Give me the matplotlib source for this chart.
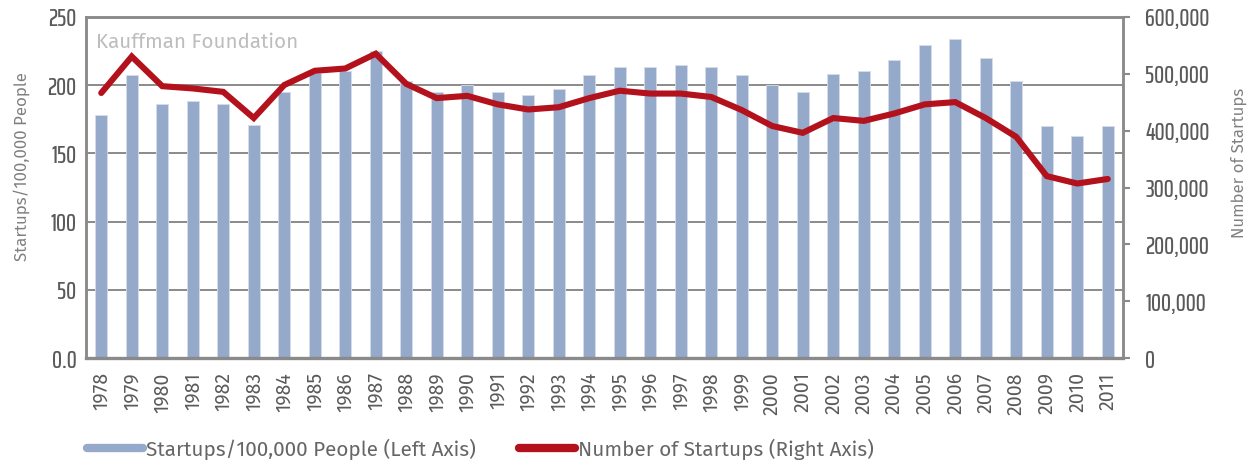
import matplotlib
matplotlib.use("Agg")
import matplotlib.pyplot as plt
from matplotlib.lines import Line2D
import numpy as np

years = [str(y) for y in range(1978, 2012)]
startups_per_100k = [178, 207, 186, 188, 186, 171, 195, 209, 210, 225, 203,
                     195, 200, 195, 193, 197, 207, 213, 213, 215, 213, 207,
                     200, 195, 208, 210, 218, 229, 234, 220, 203, 170, 163, 170]
number_of_startups = [466000, 530000, 478000, 474000, 468000, 422000, 480000,
                      505000, 509000, 535000, 482000, 457000, 461000, 446000,
                      437000, 441000, 457000, 470000, 465000, 465000, 459000,
                      436000, 408000, 396000, 422000, 417000, 430000, 446000,
                      450000, 422000, 389000, 320000, 307000, 315000]
left_ticks = [0, 50, 100, 150, 200, 250]
left_tick_labels = ["0.0", "50", "100", "150", "200", "250"]
right_ticks = [0, 100000, 200000, 300000, 400000, 500000, 600000]
right_tick_labels = ["0", "100,000", "200,000", "300,000", "400,000", "500,000", "600,000"]
bar_label = "Startups/100,000 People (Left Axis)"
line_label = "Number of Startups (Right Axis)"
left_axis_title = "Startups/100,000 People"
right_axis_title = "Number of Startups"
watermark = "Kauffman Foundation"

BAR_C = "#95a9ca"
LINE_C = "#b3121d"
GRID_C = "#8a8a8a"
TICK_C = "#5a5a5a"
LABEL_C = "#808080"
TICK_FONT = ["Saira ExtraCondensed", "Barlow Condensed", "DejaVu Sans"]
YEAR_FONT = ["Fira Sans", "DejaVu Sans"]
TEXT_FONT = ["Fira Sans", "DejaVu Sans"]

W, H = 1250, 466
fig = plt.figure(figsize=(W / 100, H / 100), dpi=100)
ax = fig.add_axes([86 / W, 1 - 358.3 / H, (1123 - 86) / W, (358.3 - 16.7) / H])
x = np.arange(len(years))

ax.bar(x, startups_per_100k, width=0.4, color=BAR_C, zorder=2,
       edgecolor="#d5ddeb", linewidth=0.6)
ax.set_xlim(-0.5, len(years) - 0.5)
ax.set_ylim(0, 250)
ax.set_yticks(left_ticks)
ax.set_yticklabels(left_tick_labels, family=TICK_FONT, fontsize=18, fontweight=500,
                   color=TICK_C)
ax.yaxis.grid(True, color=GRID_C, linewidth=1.4, zorder=0)
ax.set_axisbelow(True)
ax.set_xticks(x)
ax.set_xticklabels(years, rotation=90, family=YEAR_FONT, fontsize=14, color=TICK_C)
ax.tick_params(axis="x", length=0, pad=10)
ax.tick_params(axis="y", length=0, pad=7)
for side in ["left", "right", "top", "bottom"]:
    ax.spines[side].set_color(GRID_C)
    ax.spines[side].set_linewidth(1.8)
ax.spines["bottom"].set_linewidth(2.4)

ax.set_ylabel(left_axis_title, family=TEXT_FONT, fontsize=12.1, color=LABEL_C)
ax.yaxis.set_label_coords((30 - 86) / (1123 - 86), 0.56)

ax2 = ax.twinx()
ax2.plot(x, number_of_startups, color=LINE_C, linewidth=4.4, solid_joinstyle="miter",
         solid_capstyle="round", zorder=3)
ax2.set_ylim(0, 600000)
ax2.set_yticks(right_ticks)
ax2.set_yticklabels(right_tick_labels, family=TICK_FONT, fontsize=18, fontweight=500,
                    color=TICK_C)
ax2.tick_params(axis="y", length=5, width=1.5, color=GRID_C, pad=11, direction="out")
for side in ["left", "right", "top", "bottom"]:
    ax2.spines[side].set_color(GRID_C)
    ax2.spines[side].set_linewidth(1.8)
ax2.set_ylabel(right_axis_title, family=TEXT_FONT, fontsize=12.1, color=LABEL_C)
ax2.yaxis.set_label_coords((1231 - 86) / (1123 - 86), 0.572)

ax.text(96 / W, 1 - 42 / H, watermark, transform=fig.transFigure, family=TEXT_FONT,
        fontsize=14.8, color="#bdbdbd", va="center", ha="left")

handles = [Line2D([], [], color=BAR_C, linewidth=6, solid_capstyle="round"),
           Line2D([], [], color=LINE_C, linewidth=6, solid_capstyle="round")]
leg = fig.legend(handles, [bar_label, line_label], loc="center left",
                 bbox_to_anchor=(87 / W, 1 - 449 / H), ncol=2, frameon=False,
                 borderpad=0, borderaxespad=0, handlelength=2.7, handletextpad=0.15,
                 columnspacing=2.1, prop={"family": TEXT_FONT, "size": 14.9})
for t in leg.get_texts():
    t.set_color("#666666")

fig.savefig("out.png", dpi=100)
